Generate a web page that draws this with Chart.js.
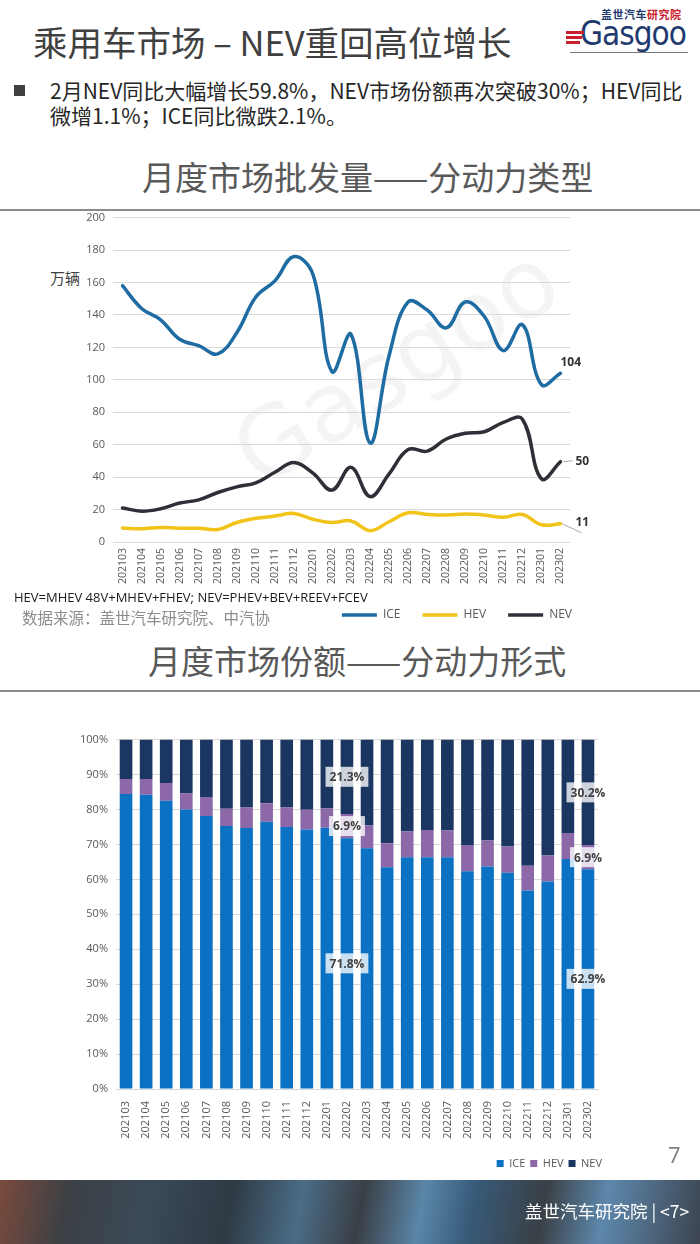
<!DOCTYPE html>
<html>
<head>
<meta charset="utf-8">
<script src="https://cdn.jsdelivr.net/npm/chart.js@4.4.0/dist/chart.umd.min.js"></script>
<style>
body{margin:0;width:700px;height:1244px;position:relative;background:#fff;overflow:hidden;font-family:"Noto Sans CJK SC","Noto Sans",sans-serif;}
.abs{position:absolute;white-space:nowrap;}
.title{left:33px;top:16px;font-size:34.5px;color:#404040;}
.bullet{left:14px;top:78px;font-size:21px;color:#262626;line-height:25px;}
.bullet span.sq{display:inline-block;width:11px;height:11px;background:#404040;margin-right:25px;vertical-align:3px;}
.sec{font-size:33px;color:#595959;}
.rule{position:absolute;left:0;width:700px;height:2px;background:#8c8c8c;}
.logo1{left:601px;top:6px;font-size:11px;font-weight:bold;letter-spacing:0.5px;}
.logo2{left:580px;top:14px;font-size:33px;color:#1f3a6e;font-family:"DejaVu Sans Condensed","DejaVu Sans",sans-serif;letter-spacing:-1px;}
.stripe{position:absolute;left:566px;height:3px;background:#c8202c;}
.wm{font-family:"DejaVu Sans",sans-serif;font-size:96px;color:rgba(0,0,0,0.045);transform:rotate(-32deg);}
#footer{position:absolute;left:0;top:1180px;width:700px;height:64px;
background:linear-gradient(100deg,#7a4a3c 0px,#3c4045 70px,#3b4a58 150px,#2e3a44 230px,#4a6c86 300px,#3a3f46 360px,#5a86a8 420px,#375a78 470px,#3a4046 540px,#5d88ac 600px,#3c4450 700px);}
</style>
</head>
<body>
<div class="abs title">乘用车市场 – NEV重回高位增长</div>
<div class="abs logo1"><span style="color:#1f3a6e">盖世汽车</span><span style="color:#c8202c">研究院</span></div>
<div class="abs logo2">Gasgoo</div>
<div class="stripe" style="top:31px;width:18px"></div>
<div class="stripe" style="top:36px;width:16px"></div>
<div class="stripe" style="top:41px;width:14px"></div>
<div class="abs" style="left:570px;top:52px;width:118px;height:1px;background:#777"></div>
<div class="abs bullet"><span class="sq"></span>2月NEV同比大幅增长59.8%，NEV市场份额再次突破30%；HEV同比<br><span style="margin-left:36px">微增1.1%；ICE同比微跌2.1%。</span></div>
<div class="abs sec" style="left:142px;top:152px">月度市场批发量——分动力类型</div>
<div class="rule" style="top:209px"></div>
<div class="abs wm" style="left:215px;top:310px">Gasgoo</div>
<div class="abs" style="left:50px;top:267px;font-size:15px;color:#404040">万辆</div>
<div style="position:absolute;left:0;top:203px;width:700px;height:428px"><canvas id="volChart"></canvas></div>
<div class="abs" style="left:14px;top:588px;font-size:13px;color:#1a1a1a;font-family:'Open Sans',sans-serif">HEV=MHEV 48V+MHEV+FHEV; NEV=PHEV+BEV+REEV+FCEV</div>
<div class="abs" style="left:22px;top:606px;font-size:15.5px;color:#8c8c8c">数据来源：盖世汽车研究院、中汽协</div>
<div class="abs sec" style="left:148px;top:636px">月度市场份额——分动力形式</div>
<div class="rule" style="top:690px"></div>
<div style="position:absolute;left:0;top:725px;width:700px;height:454px"><canvas id="shareChart"></canvas></div>
<div class="abs" style="left:668px;top:1139px;font-size:22px;color:#7f7f7f;font-family:'Open Sans',sans-serif">7</div>
<div id="footer"><div class="abs" style="left:525px;top:18px;font-size:17.5px;color:#fff">盖世汽车研究院 | &lt;7&gt;</div></div>

<script>
var months = ['202103','202104','202105','202106','202107','202108','202109','202110','202111','202112',
  '202201','202202','202203','202204','202205','202206','202207','202208','202209','202210','202211','202212',
  '202301','202302'];

// 批发量 (万辆)
var iceVol = [158,144,137,125,121,116,129,151,161,176,165,105,128,61,115,148,143,132,148,139,118,134,97,104];
var hevVol = [8.6,8.2,9,8.5,8.5,7.7,12,14.6,16,17.6,14,12,13,7,12.5,18,17,16.6,17.2,16.6,15.2,17,10.6,11.2];
var nevVol = [21,19,20.5,24,26,30.5,34,36.5,43,49,42.5,32,46,28,42,57,56,63.5,67,68,73.8,75.7,39,49.5];

// 份额 (%)
var iceShare = [84.4,84.2,82.5,80.0,78.1,75.3,74.7,76.5,75.0,74.3,74.8,71.8,68.9,63.5,66.3,66.3,66.3,62.3,63.7,61.9,56.8,59.4,65.8,62.9];
var hevShare = [4.3,4.5,5.1,4.6,5.5,4.9,5.9,5.3,5.6,5.6,5.5,6.9,6.5,6.8,7.4,7.8,7.7,7.5,7.4,7.5,7.1,7.4,7.5,6.9];
var nevShare = [11.3,11.3,12.4,15.4,16.4,19.8,19.4,18.2,19.4,20.1,19.7,21.3,24.6,29.7,26.3,25.9,26.0,30.2,28.9,30.6,36.1,33.2,26.7,30.2];
var labelIdx = [11, 23]; // bars with value labels

var tickFont = {family: '"Open Sans", sans-serif', size: 11};
var grey = '#595959';

// empty right axis, only keeps space so the legend can reach past the plot edge
function spacer(w) {
  return {position: 'right', display: true, grid: {display: false}, border: {display: false},
          ticks: {display: false}, afterFit: function(s) { s.width = w; }};
}

// end-of-line value labels
var endLabels = {
  id: 'endLabels',
  afterDatasetsDraw: function(chart) {
    var ctx = chart.ctx;
    ctx.save();
    ctx.font = 'bold 12px "Open Sans", sans-serif';
    ctx.textBaseline = 'middle';
    ctx.textAlign = 'left';
    chart.data.datasets.forEach(function(ds, i) {
      var pts = chart.getDatasetMeta(i).data;
      var p = pts[pts.length - 1];
      var txt = String(Math.round(ds.data[ds.data.length - 1]));
      ctx.strokeStyle = '#a6a6a6';
      ctx.lineWidth = 1;
      if (ds.label == 'ICE') {
        ctx.fillStyle = '#333';
        ctx.fillText(txt, p.x, p.y - 11);
      } else if (ds.label == 'NEV') {
        ctx.beginPath(); ctx.moveTo(p.x + 3, p.y); ctx.lineTo(p.x + 12, p.y - 1); ctx.stroke();
        ctx.fillStyle = '#333';
        ctx.fillText(txt, p.x + 15, p.y);
      } else {
        ctx.beginPath(); ctx.moveTo(p.x + 2, p.y); ctx.lineTo(p.x + 21, p.y + 9); ctx.stroke();
        ctx.fillStyle = '#333';
        ctx.fillText(txt, p.x + 15, p.y - 1);
      }
    });
    ctx.restore();
  }
};

new Chart(document.getElementById('volChart'), {
  type: 'line',
  data: {
    labels: months,
    datasets: [
      {label: 'ICE', data: iceVol, borderColor: '#1f6ca3', backgroundColor: '#1f6ca3', borderWidth: 3.5},
      {label: 'HEV', data: hevVol, borderColor: '#f2c318', backgroundColor: '#f2c318', borderWidth: 3.5},
      {label: 'NEV', data: nevVol, borderColor: '#2d3036', backgroundColor: '#2d3036', borderWidth: 3.5}
    ]
  },
  options: {
    responsive: true,
    maintainAspectRatio: false,
    animation: false,
    layout: {padding: {top: 0, right: 106, left: 0, bottom: 0}},
    elements: {point: {radius: 0}, line: {tension: 0.4, borderCapStyle: 'round'}},
    scales: {
      x: {
        offset: true,
        grid: {display: false, drawTicks: false},
        border: {display: false},
        ticks: {font: {family: '"Open Sans", sans-serif', size: 10.5}, color: grey,
                maxRotation: 90, minRotation: 90, padding: 6},
        afterFit: function(s) { s.height = 45; }
      },
      y: {
        min: 0, max: 200,
        grid: {color: '#d9d9d9', drawTicks: false},
        border: {display: false},
        ticks: {stepSize: 20, font: tickFont, color: grey, padding: 8},
        afterFit: function(s) { s.width = 113; }
      },
      pad: spacer(24)
    },
    plugins: {
      legend: {
        position: 'bottom',
        align: 'end',
        labels: {usePointStyle: true, pointStyle: 'line', pointStyleWidth: 35, boxWidth: 35,
                 padding: 22, font: {family: '"Open Sans", sans-serif', size: 12}, color: grey}
      },
      tooltip: {enabled: false}
    }
  },
  plugins: [endLabels]
});

// value boxes on selected bars
var barLabels = {
  id: 'barLabels',
  afterDatasetsDraw: function(chart) {
    var ctx = chart.ctx;
    ctx.save();
    ctx.font = 'bold 12px "Open Sans", sans-serif';
    ctx.textBaseline = 'middle';
    ctx.textAlign = 'center';
    chart.data.datasets.forEach(function(ds, i) {
      var bars = chart.getDatasetMeta(i).data;
      labelIdx.forEach(function(idx) {
        var b = bars[idx];
        var txt = ds.data[idx].toFixed(1) + '%';
        var w = ctx.measureText(txt).width + 8;
        var cy = (b.y + b.base) / 2;
        ctx.fillStyle = 'rgba(255,255,255,0.78)';
        ctx.fillRect(b.x - w / 2, cy - 10, w, 20);
        ctx.fillStyle = '#404040';
        ctx.fillText(txt, b.x, cy + 1);
      });
    });
    ctx.restore();
  }
};

new Chart(document.getElementById('shareChart'), {
  type: 'bar',
  data: {
    labels: months,
    datasets: [
      {label: 'ICE', data: iceShare, backgroundColor: '#0b71c2'},
      {label: 'HEV', data: hevShare, backgroundColor: '#8c68a8'},
      {label: 'NEV', data: nevShare, backgroundColor: '#1c3662'}
    ]
  },
  options: {
    responsive: true,
    maintainAspectRatio: false,
    animation: false,
    layout: {padding: {top: 0, right: 93, left: 0, bottom: 0}},
    datasets: {bar: {barPercentage: 0.63, categoryPercentage: 1}},
    scales: {
      x: {
        stacked: true,
        grid: {display: false},
        border: {display: true, color: '#d9d9d9'},
        ticks: {font: tickFont, color: grey, maxRotation: 90, minRotation: 90, padding: 4},
        afterFit: function(s) { s.height = 64; }
      },
      y: {
        stacked: true,
        min: 0, max: 100,
        grid: {color: '#d9d9d9', drawTicks: false},
        border: {display: false},
        ticks: {stepSize: 10, font: tickFont, color: grey, padding: 8,
                callback: function(v) { return v + '%'; }},
        afterFit: function(s) { s.width = 116; }
      },
      pad: spacer(9)
    },
    plugins: {
      legend: {
        position: 'bottom',
        align: 'end',
        labels: {boxWidth: 7, boxHeight: 7, padding: 5,
                 font: {family: '"Open Sans", sans-serif', size: 11}, color: grey}
      },
      tooltip: {enabled: false}
    }
  },
  plugins: [barLabels]
});
</script>
</body>
</html>
